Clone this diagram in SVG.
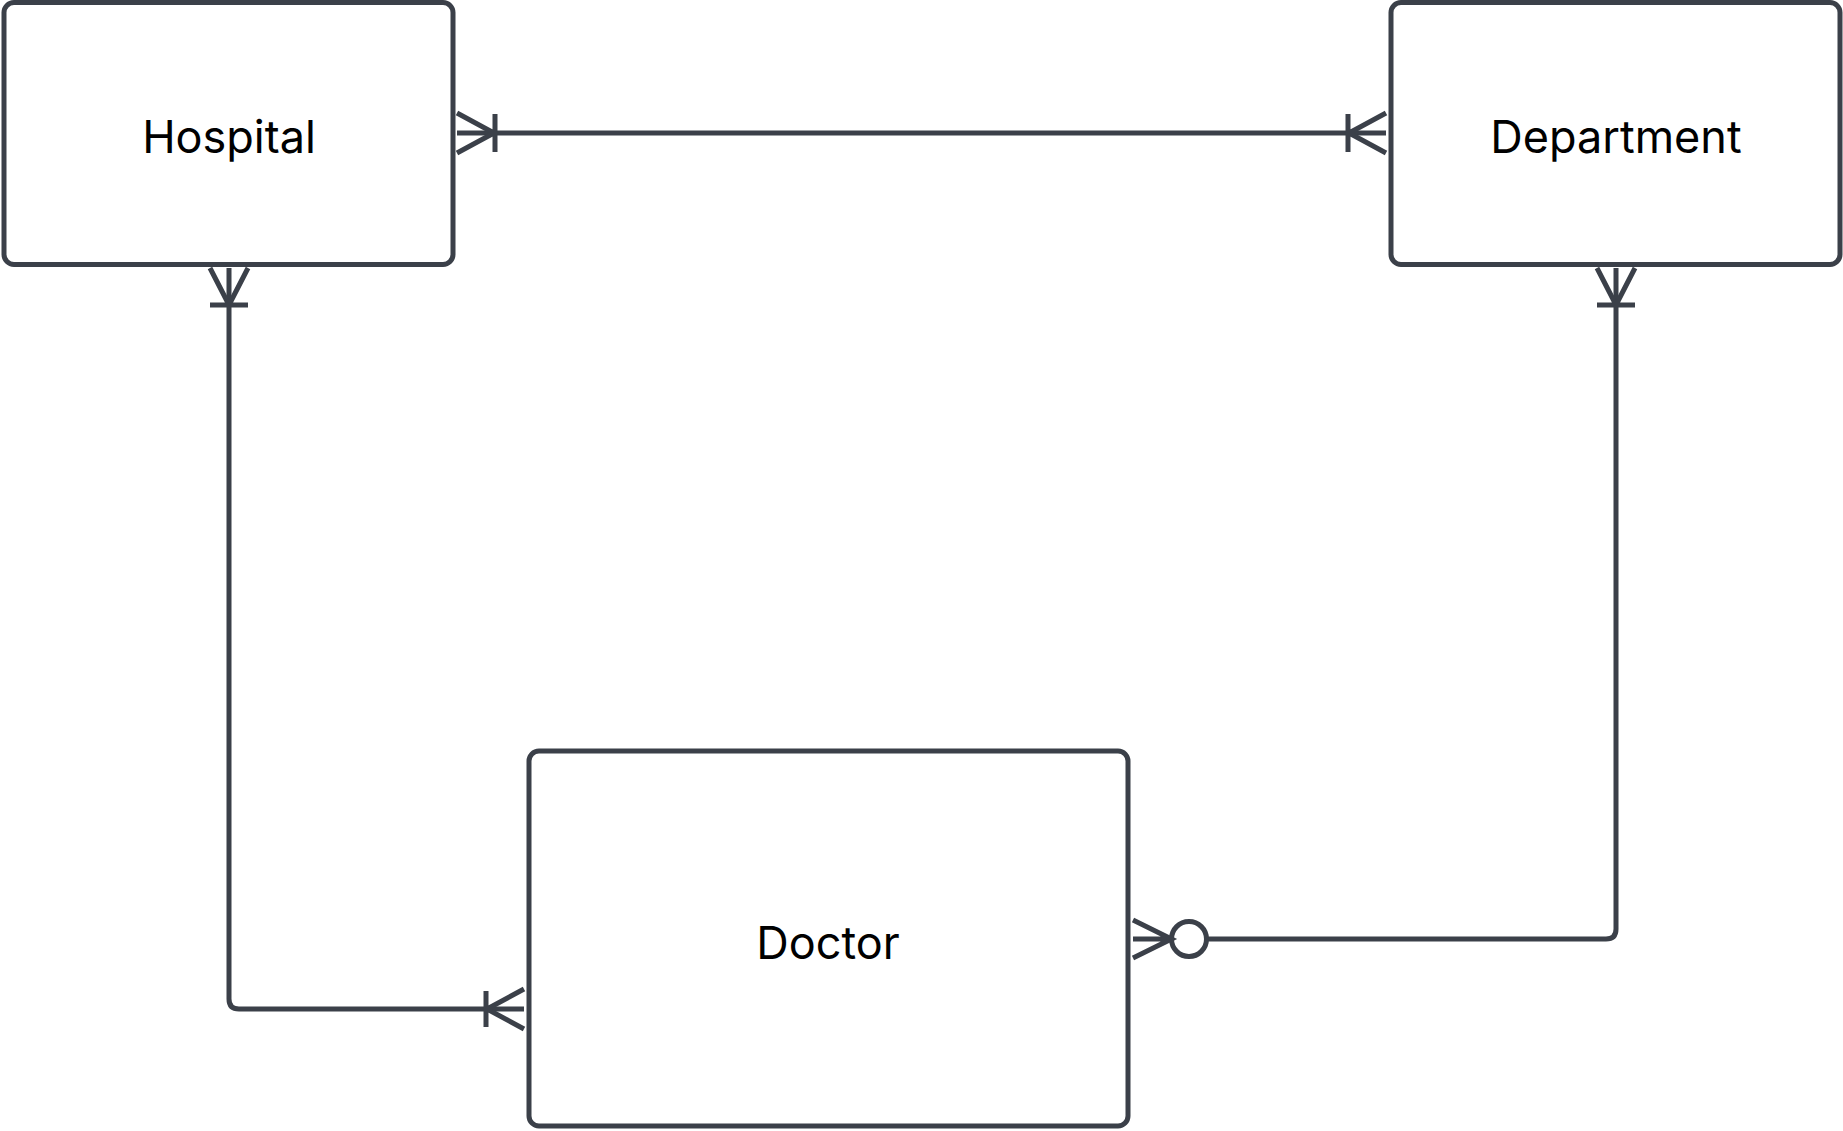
<svg xmlns="http://www.w3.org/2000/svg" width="1843" height="1131" viewBox="0 0 1843 1131">
<style>
.node{fill:#ffffff;stroke:#3b4049;stroke-width:5}
.lbl{font-family:Inter,"Noto Sans","Liberation Sans",sans-serif;font-size:45px;fill:#000000;text-anchor:middle}
.edge{fill:none;stroke:#3b4049;stroke-width:5}
</style>
<rect width="1843" height="1131" fill="#ffffff"/>
<g id="connectors">
  <g id="hospital-department">
    <path class="edge" d="M457,133 H1386"/>
    <path class="edge" d="M457,113 L494,133 L457,153 M495,114 V152"/>
    <path class="edge" d="M1386,113 L1349,133 L1386,153 M1348,114 V152"/>
  </g>
  <g id="hospital-doctor">
    <path class="edge" d="M229,268 V999 Q229,1009 239,1009 H524"/>
    <path class="edge" d="M210,268 L229,305 L248,268 M210,305 H248"/>
    <path class="edge" d="M524,989 L487,1009 L524,1029 M486,991 V1027"/>
  </g>
  <g id="department-doctor">
    <path class="edge" d="M1616,268 V929 Q1616,939 1606,939 H1206.5"/>
    <path class="edge" d="M1597,268 L1616,305 L1635,268 M1597,305 H1635"/>
    <path class="edge" d="M1133,939 H1171.5 M1133,920 L1171.5,939 L1133,958"/>
    <circle class="edge" cx="1189" cy="939" r="17.5"/>
  </g>
</g>
<g id="hospital">
  <rect class="node" x="4" y="2.5" width="449" height="262" rx="10"/>
  <text class="lbl" x="229" y="153">Hospital</text>
</g>
<g id="department">
  <rect class="node" x="1391" y="2.5" width="449" height="262" rx="10"/>
  <text class="lbl" x="1616" y="153">Department</text>
</g>
<g id="doctor">
  <rect class="node" x="529" y="751" width="599" height="375" rx="10"/>
  <text class="lbl" x="828" y="959">Doctor</text>
</g>
</svg>
